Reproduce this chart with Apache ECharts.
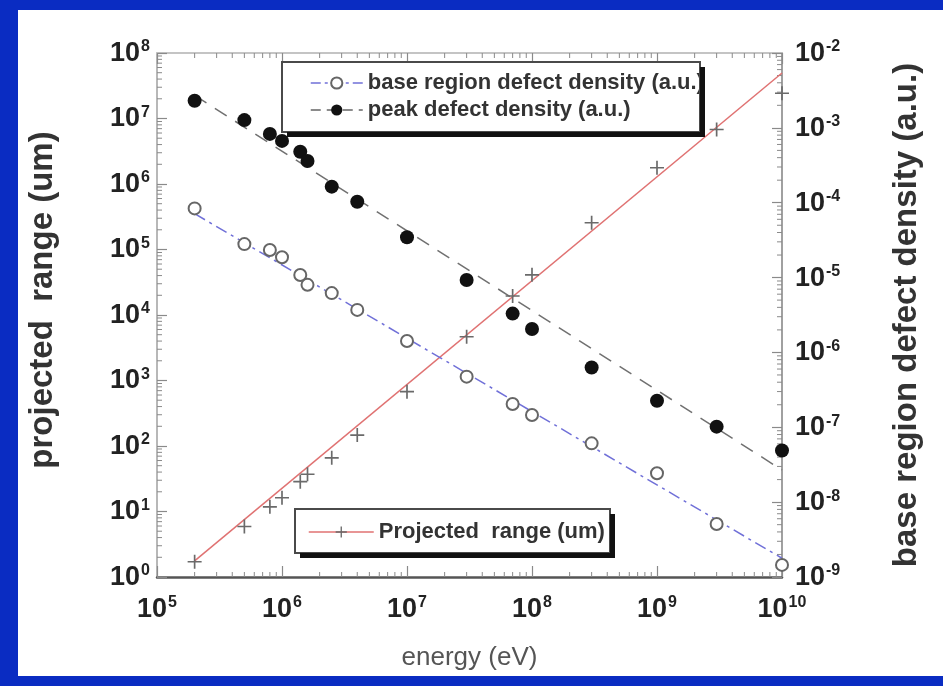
<!DOCTYPE html>
<html>
<head>
<meta charset="utf-8">
<script src="https://cdn.jsdelivr.net/npm/echarts@6/dist/echarts.min.js"></script>
<style>
  html, body { margin: 0; padding: 0; width: 943px; height: 686px; background: #0a2cc2; overflow: hidden; }
  #chart { position: absolute; left: 18px; top: 10px; width: 925px; height: 666px; background: #ffffff; }
</style>
</head>
<body>
<div id="chart"></div>
<script>
// Ion energies (eV)
const energy = [2e5, 5e5, 8e5, 1e6, 1.4e6, 1.6e6, 2.5e6, 4e6, 1e7, 3e7, 7e7, 1e8, 3e8, 1e9, 3e9, 1e10];
// Projected range (um), left axis
const projectedRange = [1.71, 5.9, 11.8, 16.2, 28.5, 37, 66, 147, 675, 4660, 1.95e4, 4.1e4, 2.56e5, 1.77e6, 6.8e6, 2.43e7];
// Defect densities (a.u.), right axis
const peakDefect = [2.3e-3, 1.27e-3, 8.3e-4, 6.7e-4, 4.8e-4, 3.6e-4, 1.64e-4, 1.03e-4, 3.45e-5, 9.3e-6, 3.3e-6, 2.06e-6, 6.3e-7, 2.26e-7, 1.02e-7, 4.9e-8];
const baseDefect = [8.4e-5, 2.8e-5, 2.34e-5, 1.87e-5, 1.08e-5, 8.0e-6, 6.2e-6, 3.7e-6, 1.42e-6, 4.75e-7, 2.05e-7, 1.46e-7, 6.1e-8, 2.43e-8, 5.1e-9, 1.45e-9];
// Power-law fits, evaluated at both ends of the energy range
const fitEnergy = [2e5, 1e10];
const rangeFit = [1.76, 4.95e7];
const peakFit = [2.71e-3, 2.69e-8];
const baseFit = [7.14e-5, 1.78e-9];
// Axis extents
const energyExtent = [1e5, 1e10];
const rangeExtent = [1, 1e8];
const defectExtent = [1e-9, 1e-2];

const NAME_RANGE = 'Projected  range (um)';
const NAME_BASE = 'base region defect density (a.u.)';
const NAME_PEAK = 'peak defect density (a.u.)';

const FONT = '"Liberation Sans", Arial, Helvetica, sans-serif';
const OX = 18, OY = 10; // page offset of the white panel
const GRID = { left: 157 - OX, top: 53 - OY, width: 625, height: 524 };

const pairs = (xs, ys) => xs.map((x, i) => [x, ys[i]]);

// 2..9 x 10^k positions between decades, for minor ticks
function decadeMultiples(lo, hi) {
  const out = [];
  for (let k = lo; k < hi; k++) for (let m = 2; m <= 9; m++) out.push(m * Math.pow(10, k));
  return out;
}
const minorEnergy = decadeMultiples(5, 10);
const minorRange = decadeMultiples(0, 8);
const minorDefect = decadeMultiples(-9, -2);

const powLabel = v => '{b|10}{e|' + Math.round(Math.log10(v)) + '}';
const tickRich = {
  b: { fontFamily: FONT, fontSize: 27, fontWeight: 'bold', color: '#222', lineHeight: 28, verticalAlign: 'bottom' },
  e: { fontFamily: FONT, fontSize: 16, fontWeight: 'bold', color: '#222', lineHeight: 14, verticalAlign: 'top', padding: [0, 0, 0, 1] }
};

const TICK = '#8a8a8a';
const crossSymbol = 'path://M4.4,0H5.6V4.4H10V5.6H5.6V10H4.4V5.6H0V4.4H4.4Z';

function tickLine(x1, y1, x2, y2) {
  return { type: 'line', shape: { x1, y1, x2, y2 }, style: { stroke: TICK, lineWidth: 1 } };
}

// Legend frames with a drop shadow on the lower right
function legendFrame(x, y, w, h) {
  const s = 5;
  return [
    { type: 'rect', z: 3, shape: { x, y, width: w, height: h }, style: { fill: '#fff' } },
    { type: 'rect', z: 20, shape: { x, y, width: w, height: h }, style: { fill: 'none', stroke: '#4a4a4a', lineWidth: 2 } },
    { type: 'rect', z: 20, shape: { x: x + w, y: y + s, width: s, height: h }, style: { fill: '#111' } },
    { type: 'rect', z: 20, shape: { x: x + s, y: y + h, width: w, height: s }, style: { fill: '#111' } }
  ];
}

const legendText = { fontFamily: FONT, fontSize: 22, fontWeight: 'bold', color: '#333', lineHeight: 22 };

const chart = echarts.init(document.getElementById('chart'), null, { renderer: 'canvas' });

chart.setOption({
  animation: false,
  backgroundColor: '#ffffff',
  textStyle: { fontFamily: FONT },
  grid: Object.assign({ outerBoundsMode: 'none', containLabel: false }, GRID),
  graphic: [].concat(
    legendFrame(282 - OX, 62 - OY, 418, 70),
    legendFrame(295 - OX, 509 - OY, 315, 44)
  ),
  legend: [
    {
      data: [
        { name: NAME_BASE, lineStyle: { color: '#7070d8', width: 1.5, type: [10, 4, 3, 4] } },
        { name: NAME_PEAK, lineStyle: { color: '#666', width: 1.5, type: [10, 6] } }
      ],
      orient: 'vertical', left: 310 - OX, top: 72 - OY, padding: 0,
      itemWidth: 52, itemHeight: 14, itemGap: 5, selectedMode: false, z: 10,
      textStyle: legendText
    },
    {
      data: [
        { name: NAME_RANGE, lineStyle: { color: '#e07272', width: 1.5, type: 'solid' } }
      ],
      orient: 'vertical', left: 308 - OX, top: 521 - OY, padding: 0,
      itemWidth: 65, itemHeight: 14, selectedMode: false, z: 10,
      textStyle: legendText
    }
  ],
  xAxis: [
    {
      type: 'log', logBase: 10, min: energyExtent[0], max: energyExtent[1], interval: 1,
      position: 'bottom',
      name: 'energy (eV)', nameLocation: 'middle', nameGap: 68,
      nameTextStyle: { fontFamily: FONT, fontSize: 26, color: '#555' },
      axisLine: { show: true, lineStyle: { color: '#555', width: 2.5 } },
      axisTick: { show: true, inside: true, length: 11, lineStyle: { color: TICK, width: 1.2 } },
      axisLabel: { formatter: powLabel, rich: tickRich, margin: 18 },
      splitLine: { show: false }
    },
    {
      type: 'log', logBase: 10, min: energyExtent[0], max: energyExtent[1], interval: 1,
      position: 'top',
      axisLine: { show: true, lineStyle: { color: '#c4c4c4', width: 2 } },
      axisTick: { show: true, inside: true, length: 11, lineStyle: { color: TICK, width: 1.2 } },
      axisLabel: { show: false },
      splitLine: { show: false }
    }
  ],
  yAxis: [
    {
      type: 'log', logBase: 10, min: rangeExtent[0], max: rangeExtent[1], interval: 1,
      position: 'left',
      name: 'projected  range (um)', nameLocation: 'middle', nameGap: 98, nameRotate: 90,
      nameTextStyle: { fontFamily: FONT, fontSize: 33, fontWeight: 'bold', color: '#333', padding: [0, 0, 0, 30] },
      axisLine: { show: true, lineStyle: { color: '#b8b8b8', width: 2 } },
      axisTick: { show: true, inside: true, length: 10, lineStyle: { color: TICK, width: 1.2 } },
      axisLabel: { formatter: powLabel, rich: tickRich, margin: 7 },
      splitLine: { show: false }
    },
    {
      type: 'log', logBase: 10, min: defectExtent[0], max: defectExtent[1], interval: 1,
      position: 'right',
      name: NAME_BASE, nameLocation: 'middle', nameGap: 108, nameRotate: 90,
      nameTextStyle: { fontFamily: FONT, fontSize: 33, fontWeight: 'bold', color: '#333' },
      axisLine: { show: true, lineStyle: { color: '#a0a0a0', width: 2 } },
      axisTick: { show: true, inside: true, length: 10, lineStyle: { color: TICK, width: 1.2 } },
      axisLabel: { formatter: powLabel, rich: tickRich, margin: 13 },
      splitLine: { show: false }
    }
  ],
  series: [
    // minor ticks between decades
    {
      type: 'custom', silent: true, z: 1, xAxisIndex: 0, yAxisIndex: 0,
      data: minorEnergy.map(v => [v, rangeExtent[0]]),
      renderItem: (params, api) => {
        const cs = params.coordSys;
        const x = api.coord([api.value(0), rangeExtent[0]])[0];
        return { type: 'group', children: [
          tickLine(x, cs.y + cs.height, x, cs.y + cs.height - 5),
          tickLine(x, cs.y, x, cs.y + 5)
        ] };
      }
    },
    {
      type: 'custom', silent: true, z: 1, xAxisIndex: 0, yAxisIndex: 0,
      data: minorRange.map(v => [energyExtent[0], v]),
      renderItem: (params, api) => {
        const cs = params.coordSys;
        const y = api.coord([energyExtent[0], api.value(1)])[1];
        return tickLine(cs.x, y, cs.x + 5, y);
      }
    },
    {
      type: 'custom', silent: true, z: 1, xAxisIndex: 0, yAxisIndex: 1,
      data: minorDefect.map(v => [energyExtent[0], v]),
      renderItem: (params, api) => {
        const cs = params.coordSys;
        const y = api.coord([energyExtent[0], api.value(1)])[1];
        return tickLine(cs.x + cs.width - 5, y, cs.x + cs.width, y);
      }
    },
    // fitted power laws
    {
      type: 'line', xAxisIndex: 0, yAxisIndex: 0, data: pairs(fitEnergy, rangeFit),
      showSymbol: false, silent: true, clip: false, z: 2,
      lineStyle: { color: '#e07272', width: 1.5 }
    },
    {
      type: 'line', xAxisIndex: 0, yAxisIndex: 1, data: pairs(fitEnergy, peakFit),
      showSymbol: false, silent: true, clip: false, z: 2,
      lineStyle: { color: '#707070', width: 1.5, type: [14, 10] }
    },
    {
      type: 'line', xAxisIndex: 0, yAxisIndex: 1, data: pairs(fitEnergy, baseFit),
      showSymbol: false, silent: true, clip: false, z: 2,
      lineStyle: { color: '#7070d8', width: 1.5, type: [12, 5, 3, 5] }
    },
    // measured points
    {
      name: NAME_RANGE, type: 'line', xAxisIndex: 0, yAxisIndex: 0,
      data: pairs(energy, projectedRange), clip: false, z: 3,
      symbol: crossSymbol, symbolSize: 14, showSymbol: true,
      lineStyle: { width: 0 }, itemStyle: { color: '#6a6a6a' }
    },
    {
      name: NAME_BASE, type: 'line', xAxisIndex: 0, yAxisIndex: 1,
      data: pairs(energy, baseDefect), clip: false, z: 3,
      symbol: 'emptyCircle', symbolSize: 12, showSymbol: true,
      lineStyle: { width: 0 }, itemStyle: { color: '#666', borderWidth: 1.5 }
    },
    {
      name: NAME_PEAK, type: 'line', xAxisIndex: 0, yAxisIndex: 1,
      data: pairs(energy, peakDefect), clip: false, z: 3,
      symbol: 'circle', symbolSize: 14, showSymbol: true,
      lineStyle: { width: 0 }, itemStyle: { color: '#111' }
    }
  ]
});
</script>
</body>
</html>
